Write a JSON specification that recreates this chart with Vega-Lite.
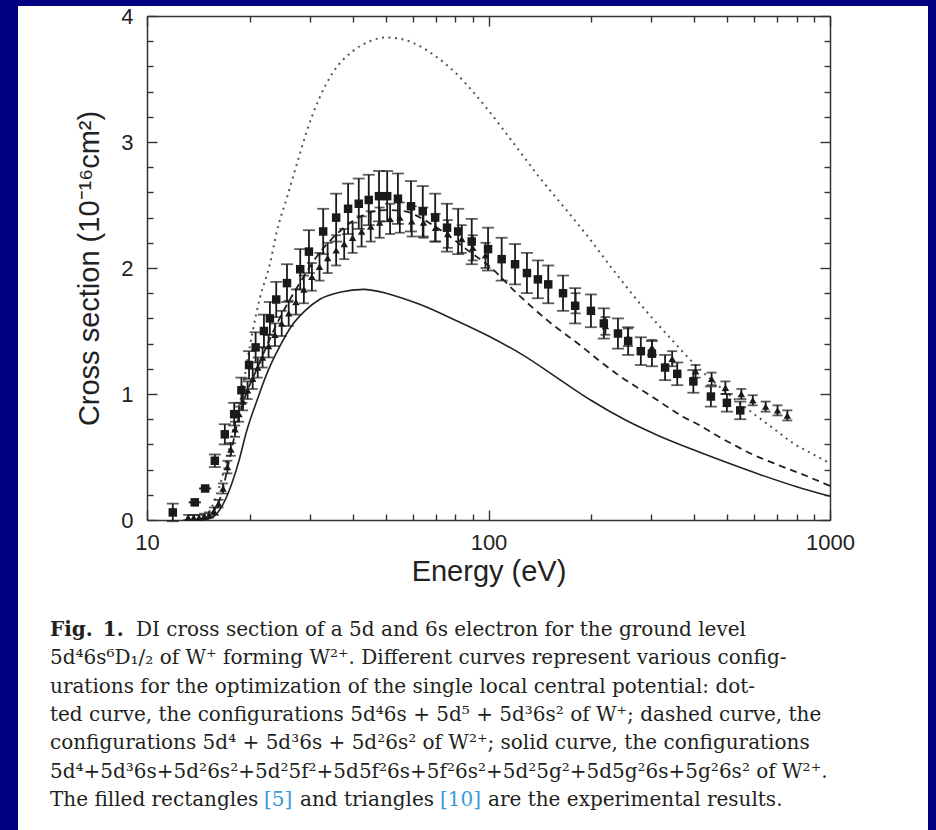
{
  "$schema": "https://vega.github.io/schema/vega-lite/v6.json",
  "width": 910,
  "height": 825,
  "padding": {"left": 18, "top": 5, "right": 8, "bottom": 0},
  "autosize": {"type": "pad"},
  "background": "#000080",
  "config": {
    "view": {"fill": "#ffffff", "stroke": null},
    "axis": {
      "domainColor": "#333333", "domainWidth": 1.5, "tickColor": "#333333", "tickWidth": 1.4,
      "grid": false, "labelFont": "Liberation Sans", "titleFont": "Liberation Sans",
      "labelColor": "#222222", "titleColor": "#222222", "titleFontWeight": "normal",
      "labelFontSize": 22, "titleFontSize": 29, "labelFlush": false, "labelOverlap": false
    }
  },
  "datasets": {
    "solid": [
      {"E": 14.5, "s": 0}, {"E": 15.5, "s": 0.02}, {"E": 16.5, "s": 0.1}, {"E": 17.5, "s": 0.25},
      {"E": 18.5, "s": 0.45}, {"E": 19.6, "s": 0.71}, {"E": 21, "s": 0.95}, {"E": 22.5, "s": 1.17},
      {"E": 24.5, "s": 1.38}, {"E": 26.5, "s": 1.54}, {"E": 29, "s": 1.66}, {"E": 32, "s": 1.75},
      {"E": 37, "s": 1.81}, {"E": 43, "s": 1.83}, {"E": 50.1, "s": 1.8}, {"E": 56, "s": 1.76},
      {"E": 63.1, "s": 1.71}, {"E": 79.4, "s": 1.59}, {"E": 100, "s": 1.46}, {"E": 125.9, "s": 1.31},
      {"E": 158.5, "s": 1.13}, {"E": 199.5, "s": 0.95}, {"E": 251, "s": 0.795}, {"E": 316, "s": 0.667},
      {"E": 398, "s": 0.557}, {"E": 501, "s": 0.454}, {"E": 631, "s": 0.356}, {"E": 794, "s": 0.266},
      {"E": 1000, "s": 0.188}
    ],
    "dashed": [
      {"E": 14.5, "s": 0}, {"E": 15.5, "s": 0.05}, {"E": 16.5, "s": 0.2}, {"E": 17.5, "s": 0.5},
      {"E": 18.5, "s": 0.8}, {"E": 19.5, "s": 1.0}, {"E": 21, "s": 1.2}, {"E": 23, "s": 1.45},
      {"E": 25, "s": 1.65}, {"E": 28, "s": 1.88}, {"E": 32, "s": 2.12}, {"E": 37, "s": 2.3},
      {"E": 43, "s": 2.42}, {"E": 50, "s": 2.46}, {"E": 57, "s": 2.45}, {"E": 65, "s": 2.38},
      {"E": 77, "s": 2.25}, {"E": 90, "s": 2.11}, {"E": 100, "s": 2.02}, {"E": 121, "s": 1.8},
      {"E": 151, "s": 1.57}, {"E": 189, "s": 1.37}, {"E": 212, "s": 1.26}, {"E": 240, "s": 1.15},
      {"E": 297, "s": 0.99}, {"E": 371, "s": 0.82}, {"E": 416, "s": 0.75}, {"E": 466, "s": 0.67},
      {"E": 520, "s": 0.6}, {"E": 583, "s": 0.53}, {"E": 700, "s": 0.44}, {"E": 817, "s": 0.37},
      {"E": 1000, "s": 0.27}
    ],
    "dotted": [
      {"E": 13.5, "s": 0}, {"E": 15, "s": 0.05}, {"E": 16, "s": 0.2}, {"E": 17, "s": 0.45},
      {"E": 18, "s": 0.75}, {"E": 19, "s": 1.02}, {"E": 19.6, "s": 1.24}, {"E": 20.4, "s": 1.5},
      {"E": 21.4, "s": 1.76}, {"E": 22.9, "s": 2.03}, {"E": 24, "s": 2.29}, {"E": 25.7, "s": 2.56},
      {"E": 27.5, "s": 2.83}, {"E": 29.4, "s": 3.09}, {"E": 32, "s": 3.35}, {"E": 35, "s": 3.55},
      {"E": 40, "s": 3.72}, {"E": 45, "s": 3.8}, {"E": 50, "s": 3.83}, {"E": 55, "s": 3.82},
      {"E": 62, "s": 3.77}, {"E": 70, "s": 3.68}, {"E": 80, "s": 3.55}, {"E": 90, "s": 3.4},
      {"E": 100, "s": 3.25}, {"E": 120, "s": 2.97}, {"E": 140, "s": 2.73}, {"E": 162, "s": 2.52},
      {"E": 194, "s": 2.26}, {"E": 231, "s": 1.99}, {"E": 283, "s": 1.69}, {"E": 347, "s": 1.42},
      {"E": 400, "s": 1.24}, {"E": 460, "s": 1.09}, {"E": 520, "s": 0.97}, {"E": 600, "s": 0.84},
      {"E": 680, "s": 0.73}, {"E": 780, "s": 0.61}, {"E": 880, "s": 0.53}, {"E": 1000, "s": 0.45}
    ],
    "rect": [
      {"E": 11.9, "s": 0.06, "err": 0.07}, {"E": 13.8, "s": 0.14, "err": 0}, {"E": 14.8, "s": 0.25, "err": 0},
      {"E": 15.8, "s": 0.47, "err": 0.05}, {"E": 16.9, "s": 0.68, "err": 0.08}, {"E": 18.0, "s": 0.84, "err": 0.09},
      {"E": 18.9, "s": 1.03, "err": 0.1}, {"E": 19.9, "s": 1.23, "err": 0.11}, {"E": 20.8, "s": 1.37, "err": 0.12},
      {"E": 22.0, "s": 1.5, "err": 0.13}, {"E": 22.9, "s": 1.6, "err": 0.13}, {"E": 23.9, "s": 1.75, "err": 0.14},
      {"E": 25.7, "s": 1.88, "err": 0.15}, {"E": 28.1, "s": 1.99, "err": 0.16}, {"E": 29.8, "s": 2.13, "err": 0.17},
      {"E": 32.8, "s": 2.29, "err": 0.18}, {"E": 35.8, "s": 2.4, "err": 0.19}, {"E": 38.8, "s": 2.47, "err": 0.2},
      {"E": 41.7, "s": 2.51, "err": 0.2}, {"E": 44.6, "s": 2.54, "err": 0.2}, {"E": 47.8, "s": 2.57, "err": 0.2},
      {"E": 50.5, "s": 2.57, "err": 0.2}, {"E": 54.3, "s": 2.55, "err": 0.2}, {"E": 59.3, "s": 2.49, "err": 0.2},
      {"E": 64.2, "s": 2.45, "err": 0.2}, {"E": 69.8, "s": 2.4, "err": 0.19}, {"E": 75.6, "s": 2.32, "err": 0.19},
      {"E": 81.5, "s": 2.29, "err": 0.18}, {"E": 89.3, "s": 2.21, "err": 0.18}, {"E": 99.7, "s": 2.15, "err": 0.17},
      {"E": 109.3, "s": 2.07, "err": 0.17}, {"E": 119.6, "s": 2.03, "err": 0.16}, {"E": 129.6, "s": 1.96, "err": 0.16},
      {"E": 139.5, "s": 1.91, "err": 0.15}, {"E": 149.6, "s": 1.87, "err": 0.15}, {"E": 165.3, "s": 1.8, "err": 0.14},
      {"E": 179.4, "s": 1.7, "err": 0.14}, {"E": 199.5, "s": 1.66, "err": 0.13}, {"E": 217.6, "s": 1.56, "err": 0.12},
      {"E": 239.4, "s": 1.48, "err": 0.12}, {"E": 256.4, "s": 1.42, "err": 0.11}, {"E": 279.3, "s": 1.34, "err": 0.11},
      {"E": 301, "s": 1.32, "err": 0.1}, {"E": 328.9, "s": 1.21, "err": 0.1}, {"E": 357, "s": 1.16, "err": 0.09},
      {"E": 398, "s": 1.1, "err": 0.09}, {"E": 448, "s": 0.98, "err": 0.08}, {"E": 499, "s": 0.93, "err": 0.07},
      {"E": 546, "s": 0.87, "err": 0.07}
    ],
    "tri": [
      {"E": 13.2, "s": 0.02, "err": 0.02}, {"E": 13.7, "s": 0.02, "err": 0.02}, {"E": 14.2, "s": 0.02, "err": 0.02},
      {"E": 14.7, "s": 0.03, "err": 0.02}, {"E": 15.2, "s": 0.04, "err": 0.02}, {"E": 15.7, "s": 0.07, "err": 0.03},
      {"E": 16.2, "s": 0.13, "err": 0.03}, {"E": 16.7, "s": 0.25, "err": 0.04}, {"E": 17.2, "s": 0.42, "err": 0.05},
      {"E": 17.6, "s": 0.56, "err": 0.05}, {"E": 18.1, "s": 0.72, "err": 0.06}, {"E": 18.6, "s": 0.84, "err": 0.06},
      {"E": 19.1, "s": 0.94, "err": 0.07}, {"E": 19.7, "s": 1.03, "err": 0.07}, {"E": 20.4, "s": 1.12, "err": 0.08},
      {"E": 21.1, "s": 1.21, "err": 0.08}, {"E": 21.8, "s": 1.29, "err": 0.08}, {"E": 22.7, "s": 1.38, "err": 0.09},
      {"E": 23.7, "s": 1.47, "err": 0.09}, {"E": 24.8, "s": 1.56, "err": 0.1}, {"E": 26.0, "s": 1.64, "err": 0.1},
      {"E": 27.3, "s": 1.73, "err": 0.1}, {"E": 28.8, "s": 1.83, "err": 0.11}, {"E": 30.4, "s": 1.93, "err": 0.11},
      {"E": 32.0, "s": 2.01, "err": 0.11}, {"E": 33.8, "s": 2.08, "err": 0.12}, {"E": 35.8, "s": 2.14, "err": 0.12},
      {"E": 37.8, "s": 2.19, "err": 0.12}, {"E": 40.0, "s": 2.24, "err": 0.12}, {"E": 42.5, "s": 2.29, "err": 0.12},
      {"E": 45.2, "s": 2.33, "err": 0.12}, {"E": 48.0, "s": 2.36, "err": 0.12}, {"E": 51.5, "s": 2.39, "err": 0.12},
      {"E": 55.0, "s": 2.4, "err": 0.12}, {"E": 59.6, "s": 2.37, "err": 0.12}, {"E": 64.5, "s": 2.36, "err": 0.12},
      {"E": 70.0, "s": 2.32, "err": 0.11}, {"E": 76.0, "s": 2.27, "err": 0.11}, {"E": 83.5, "s": 2.23, "err": 0.11},
      {"E": 90.0, "s": 2.16, "err": 0.1}, {"E": 98.0, "s": 2.1, "err": 0.1}, {"E": 180, "s": 1.72, "err": 0.08},
      {"E": 220, "s": 1.54, "err": 0.07}, {"E": 256, "s": 1.45, "err": 0.07}, {"E": 301, "s": 1.37, "err": 0.06},
      {"E": 345, "s": 1.28, "err": 0.06}, {"E": 404, "s": 1.18, "err": 0.05}, {"E": 450, "s": 1.12, "err": 0.05},
      {"E": 494, "s": 1.05, "err": 0.05}, {"E": 550, "s": 1.0, "err": 0.04}, {"E": 594, "s": 0.95, "err": 0.04},
      {"E": 648, "s": 0.9, "err": 0.04}, {"E": 702, "s": 0.87, "err": 0.04}, {"E": 750, "s": 0.83, "err": 0.04}
    ]
  },
  "layer": [
    {
      "layer": [
        {
          "data": {"name": "solid"},
          "mark": {"type": "line", "color": "#222222", "strokeWidth": 1.6, "interpolate": "monotone"},
          "encoding": {
            "x": {
              "field": "E", "type": "quantitative",
              "scale": {"type": "log", "domain": [10, 1000], "range": [129, 812], "nice": false},
              "axis": {
                "orient": "bottom", "offset": -311,
                "values": [10, 20, 30, 40, 50, 60, 70, 80, 90, 100, 200, 300, 400, 500, 600, 700, 800, 900, 1000],
                "tickSize": {"condition": {"test": "datum.value == 10 || datum.value == 100 || datum.value == 1000", "value": -10}, "value": -6},
                "format": "d",
                "labelExpr": "(datum.value == 10 || datum.value == 100 || datum.value == 1000) ? datum.label : ''",
                "labelPadding": 22,
                "title": "Energy (eV)", "titlePadding": 0
              }
            },
            "y": {
              "field": "s", "type": "quantitative",
              "scale": {"domain": [0, 4], "range": [514, 10], "nice": false, "zero": false},
              "axis": {
                "orient": "left", "offset": -129, "tickCount": 20,
                "tickSize": {"condition": {"test": "abs(datum.value - round(datum.value)) < 0.001", "value": -10}, "value": -6},
                "labelExpr": "abs(datum.value - round(datum.value)) < 0.001 ? format(round(datum.value), 'd') : ''",
                "labelPadding": 24,
                "title": "Cross section (10⁻¹⁶cm²)", "titlePadding": 16
              }
            }
          }
        },
        {
          "data": {"name": "dashed"},
          "mark": {"type": "line", "color": "#222222", "strokeWidth": 1.8, "strokeDash": [7, 5], "interpolate": "monotone"},
          "encoding": {
            "x": {
              "field": "E", "type": "quantitative",
              "axis": {
                "orient": "top", "offset": -10,
                "values": [10, 20, 30, 40, 50, 60, 70, 80, 90, 100, 200, 300, 400, 500, 600, 700, 800, 900, 1000],
                "tickSize": {"condition": {"test": "datum.value == 10 || datum.value == 100 || datum.value == 1000", "value": -10}, "value": -6},
                "labels": false, "title": null
              }
            },
            "y": {
              "field": "s", "type": "quantitative",
              "axis": {
                "orient": "right", "offset": -98, "tickCount": 20,
                "tickSize": {"condition": {"test": "abs(datum.value - round(datum.value)) < 0.001", "value": -10}, "value": -6},
                "labels": false, "title": null
              }
            }
          }
        },
        {
          "data": {"name": "dotted"},
          "mark": {"type": "line", "color": "#555555", "strokeWidth": 2, "strokeDash": [2, 4.5], "interpolate": "monotone"},
          "encoding": {
            "x": {"field": "E", "type": "quantitative", "axis": null},
            "y": {"field": "s", "type": "quantitative", "axis": null}
          }
        },
        {
          "data": {"name": "rect"},
          "mark": {"type": "errorbar", "ticks": {"size": 12, "thickness": 1.8, "color": "#1a1a1a"}, "rule": {"strokeWidth": 1.8, "color": "#1a1a1a"}},
          "encoding": {
            "x": {"field": "E", "type": "quantitative", "axis": null},
            "y": {"field": "s", "type": "quantitative", "axis": null},
            "yError": {"field": "err"}
          }
        },
        {
          "data": {"name": "tri"},
          "mark": {"type": "errorbar", "ticks": {"size": 10, "thickness": 1.8, "color": "#1a1a1a"}, "rule": {"strokeWidth": 1.8, "color": "#1a1a1a"}},
          "encoding": {
            "x": {"field": "E", "type": "quantitative", "axis": null},
            "y": {"field": "s", "type": "quantitative", "axis": null},
            "yError": {"field": "err"}
          }
        },
        {
          "data": {"name": "rect"},
          "mark": {"type": "point", "shape": "square", "filled": true, "size": 72, "color": "#1a1a1a", "opacity": 1},
          "encoding": {
            "x": {"field": "E", "type": "quantitative", "axis": null},
            "y": {"field": "s", "type": "quantitative", "axis": null}
          }
        },
        {
          "data": {"name": "tri"},
          "mark": {"type": "point", "shape": "triangle-up", "filled": true, "size": 55, "color": "#1a1a1a", "opacity": 1},
          "encoding": {
            "x": {"field": "E", "type": "quantitative", "axis": null},
            "y": {"field": "s", "type": "quantitative", "axis": null}
          }
        }
      ],
      "resolve": {"axis": {"x": "independent", "y": "independent"}}
    },
    {
      "layer": [
        {
          "data": {"values": [{"line": 1, "text": "Fig.\u20021."}]},
          "mark": {"type": "text", "font": "DejaVu Serif", "fontSize": 20, "fontWeight": "bold", "align": "left", "baseline": "alphabetic", "color": "#231f20"},
          "encoding": {
            "x": {"datum": 0, "type": "quantitative", "scale": {"domain": [0, 1], "range": [32, 890]}, "axis": null},
            "y": {"field": "line", "type": "quantitative", "scale": {"domain": [1, 7], "range": [630, 800]}, "axis": null},
            "text": {"field": "text"}
          }
        },
        {
          "data": {"values": [{"line": 1, "text": "DI cross section of a 5d and 6s electron for the ground level"}]},
          "mark": {"type": "text", "font": "DejaVu Serif", "fontSize": 20, "align": "left", "baseline": "alphabetic", "color": "#231f20", "dx": 86},
          "encoding": {
            "x": {"datum": 0, "type": "quantitative", "axis": null},
            "y": {"field": "line", "type": "quantitative", "axis": null},
            "text": {"field": "text"}
          }
        },
        {
          "data": {"values": [
            {"line": 2, "text": "5d⁴6s⁶D₁/₂ of W⁺ forming W²⁺. Different curves represent various config-"},
            {"line": 3, "text": "urations for the optimization of the single local central potential: dot-"},
            {"line": 4, "text": "ted curve, the configurations 5d⁴6s + 5d⁵ + 5d³6s² of W⁺; dashed curve, the"},
            {"line": 5, "text": "configurations 5d⁴ + 5d³6s + 5d²6s² of W²⁺; solid curve, the configurations"},
            {"line": 6, "text": "5d⁴+5d³6s+5d²6s²+5d²5f²+5d5f²6s+5f²6s²+5d²5g²+5d5g²6s+5g²6s² of W²⁺."},
            {"line": 7, "text": "The filled rectangles"}
          ]},
          "mark": {"type": "text", "font": "DejaVu Serif", "fontSize": 20, "align": "left", "baseline": "alphabetic", "color": "#231f20"},
          "encoding": {
            "x": {"datum": 0, "type": "quantitative", "axis": null},
            "y": {"field": "line", "type": "quantitative", "axis": null},
            "text": {"field": "text"}
          }
        },
        {
          "data": {"values": [{"line": 7, "text": "[5]"}]},
          "mark": {"type": "text", "font": "DejaVu Serif", "fontSize": 20, "align": "left", "baseline": "alphabetic", "color": "#3a9ad9", "dx": 214},
          "encoding": {
            "x": {"datum": 0, "type": "quantitative", "axis": null},
            "y": {"field": "line", "type": "quantitative", "axis": null},
            "text": {"field": "text"}
          }
        },
        {
          "data": {"values": [{"line": 7, "text": "and triangles"}]},
          "mark": {"type": "text", "font": "DejaVu Serif", "fontSize": 20, "align": "left", "baseline": "alphabetic", "color": "#231f20", "dx": 250},
          "encoding": {
            "x": {"datum": 0, "type": "quantitative", "axis": null},
            "y": {"field": "line", "type": "quantitative", "axis": null},
            "text": {"field": "text"}
          }
        },
        {
          "data": {"values": [{"line": 7, "text": "[10]"}]},
          "mark": {"type": "text", "font": "DejaVu Serif", "fontSize": 20, "align": "left", "baseline": "alphabetic", "color": "#3a9ad9", "dx": 390},
          "encoding": {
            "x": {"datum": 0, "type": "quantitative", "axis": null},
            "y": {"field": "line", "type": "quantitative", "axis": null},
            "text": {"field": "text"}
          }
        },
        {
          "data": {"values": [{"line": 7, "text": "are the experimental results."}]},
          "mark": {"type": "text", "font": "DejaVu Serif", "fontSize": 20, "align": "left", "baseline": "alphabetic", "color": "#231f20", "dx": 438},
          "encoding": {
            "x": {"datum": 0, "type": "quantitative", "axis": null},
            "y": {"field": "line", "type": "quantitative", "axis": null},
            "text": {"field": "text"}
          }
        }
      ]
    }
  ],
  "resolve": {"scale": {"x": "independent", "y": "independent"}}
}
